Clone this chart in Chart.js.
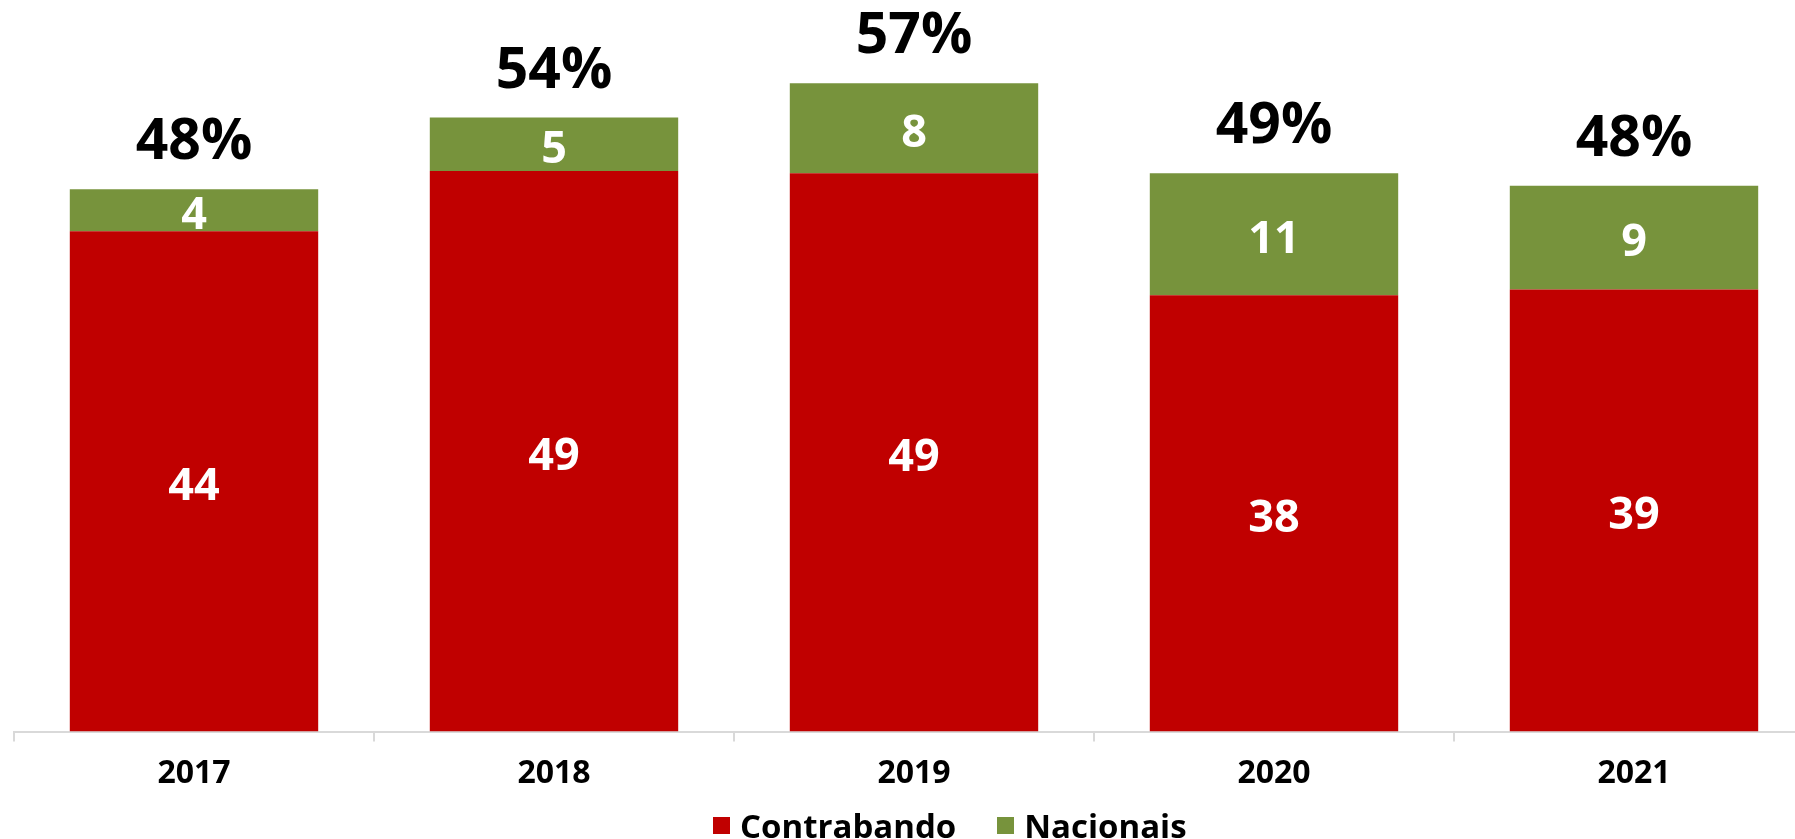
<!DOCTYPE html>
<html>
<head>
<meta charset="utf-8">
<script src="https://cdn.jsdelivr.net/npm/chart.js@4/dist/chart.umd.min.js"></script>
<style>
  html, body { margin: 0; padding: 0; background: #fff; overflow: hidden; width: 1795px; height: 839px; }
  .wrap { position: relative; width: 1814px; height: 839px; }
  .legend { position: absolute; left: 713px; top: 805px; height: 40px; display: flex; align-items: center;
            font-family: "Open Sans", "Liberation Sans", sans-serif; font-weight: bold; font-size: 33px; color: #000; }
  .legend span.box { display: inline-block; width: 17px; height: 17px; margin-right: 10px; }
  .legend .item { display: flex; align-items: center; margin-right: 41px; }
</style>
</head>
<body>
<div class="wrap">
  <canvas id="chart"></canvas>
  <div class="legend" id="legend"></div>
</div>
<script>
const years = ['2017', '2018', '2019', '2020', '2021'];
const contrabando = [43.9, 49.2, 49.0, 38.3, 38.8];
const nacionais = [3.7, 4.7, 7.9, 10.7, 9.1];
const seriesNames = ['Contrabando', 'Nacionais'];
const seriesColors = ['#C00000', '#77933C'];

const fontFamily = '"Open Sans", "Liberation Sans", sans-serif';

// labels inside bars + total on top
const barLabels = {
    id: 'barLabels',
    afterDatasetsDraw(chart) {
        const ctx = chart.ctx;
        ctx.save();
        ctx.textAlign = 'center';
        ctx.textBaseline = 'middle';
        ctx.fillStyle = '#fff';
        ctx.font = 'bold 45px ' + fontFamily;
        chart.data.datasets.forEach((ds, i) => {
            chart.getDatasetMeta(i).data.forEach((bar, j) => {
                ctx.fillText(Math.round(ds.data[j]), bar.x, (bar.y + bar.base) / 2 + 6);
            });
        });
        let last = chart.getDatasetMeta(chart.data.datasets.length - 1);
        ctx.fillStyle = '#000';
        ctx.font = 'bold 57px ' + fontFamily;
        last.data.forEach((bar, j) => {
            let total = contrabando[j] + nacionais[j];
            ctx.fillText(Math.round(total) + '%', bar.x, bar.y - 46);
        });
        ctx.restore();
    }
};

const chart = new Chart(document.getElementById('chart'), {
    type: 'bar',
    data: {
        labels: years,
        datasets: [{
            label: seriesNames[0],
            data: contrabando,
            backgroundColor: seriesColors[0],
            barPercentage: 0.69,
            categoryPercentage: 1
        }, {
            label: seriesNames[1],
            data: nacionais,
            backgroundColor: seriesColors[1],
            barPercentage: 0.69,
            categoryPercentage: 1
        }]
    },
    options: {
        responsive: true,
        maintainAspectRatio: false,
        animation: false,
        layout: { padding: { left: 14, right: 0, top: 0, bottom: 33 } },
        scales: {
            x: {
                stacked: true,
                grid: { drawOnChartArea: false, color: '#d9d9d9', tickLength: 10, lineWidth: 2 },
                border: { display: true, color: '#d9d9d9', width: 2 },
                ticks: { color: '#000', padding: 13, font: { family: fontFamily, size: 32, weight: 'bold' } }
            },
            y: {
                stacked: true,
                display: false,
                min: 0,
                max: 64.2
            }
        },
        plugins: {
            tooltip: { enabled: false },
            legend: { display: false }
        }
    },
    plugins: [barLabels]
});

// legend
let legend = document.getElementById('legend');
seriesNames.forEach((name, i) => {
    let item = document.createElement('div');
    item.className = 'item';
    item.innerHTML = '<span class="box" style="background:' + seriesColors[i] + '"></span>' + name;
    legend.appendChild(item);
});
</script>
</body>
</html>
